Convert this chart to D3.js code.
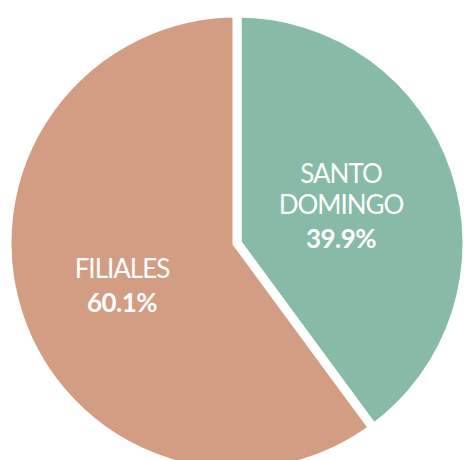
<!DOCTYPE html>
<html>
<head>
<meta charset="utf-8">
<script src="https://cdn.jsdelivr.net/npm/d3@7"></script>
<style>
  body { margin: 0; background: #fff; }
  svg { display: block; }
  .lbl { fill: #fff; font-family: Lato, "Open Sans", sans-serif; text-anchor: middle; }
</style>
</head>
<body>
<script>
// Data
var categories = ["SANTO DOMINGO", "FILIALES"];
var values = [39.9, 60.1];
var labelLines = [["SANTO", "DOMINGO"], ["FILIALES"]];
var colors = ["#87BAA7", "#D39D84"];

// Layout
var width = 464, height = 460;
var cx = 237, cy = 243;
var radius = 230;
var gap = 9;

var svg = d3.select("body").append("svg")
    .attr("width", width)
    .attr("height", height);

var g = svg.append("g")
    .attr("transform", "translate(" + cx + "," + cy + ")");

var pie = d3.pie().sort(null).value(function(d) { return d; });
var arc = d3.arc().innerRadius(0).outerRadius(radius);

var arcs = pie(values);

g.selectAll(".slice")
    .data(arcs).enter()
    .append("path")
        .attr("class", "slice")
        .attr("d", arc)
        .attr("fill", function(d, i) { return colors[i]; })
        .attr("stroke", "#fff")
        .attr("stroke-width", gap)
        .attr("stroke-linejoin", "miter");

// Labels (positions relative to center, tuned to reference)
var labelPos = [[104, -60], [-115, 35]];
var lineH = 31;

arcs.forEach(function(a, i) {
    var t = g.append("text")
        .attr("class", "lbl")
        .attr("x", labelPos[i][0])
        .attr("y", labelPos[i][1]);
    var lines = labelLines[i];
    lines.forEach(function(s, j) {
        t.append("tspan")
            .attr("x", labelPos[i][0])
            .attr("dy", j === 0 ? 0 : lineH)
            .style("font-size", "26px")
            .style("letter-spacing", "-1px")
            .text(s);
    });
    t.append("tspan")
        .attr("x", labelPos[i][0])
        .attr("dy", 34)
        .style("font-size", "26px")
        .style("font-weight", "bold")
        .style("letter-spacing", "-0.5px")
        .text(d3.format(".1f")(values[i]) + "%");
});
</script>
</body>
</html>
